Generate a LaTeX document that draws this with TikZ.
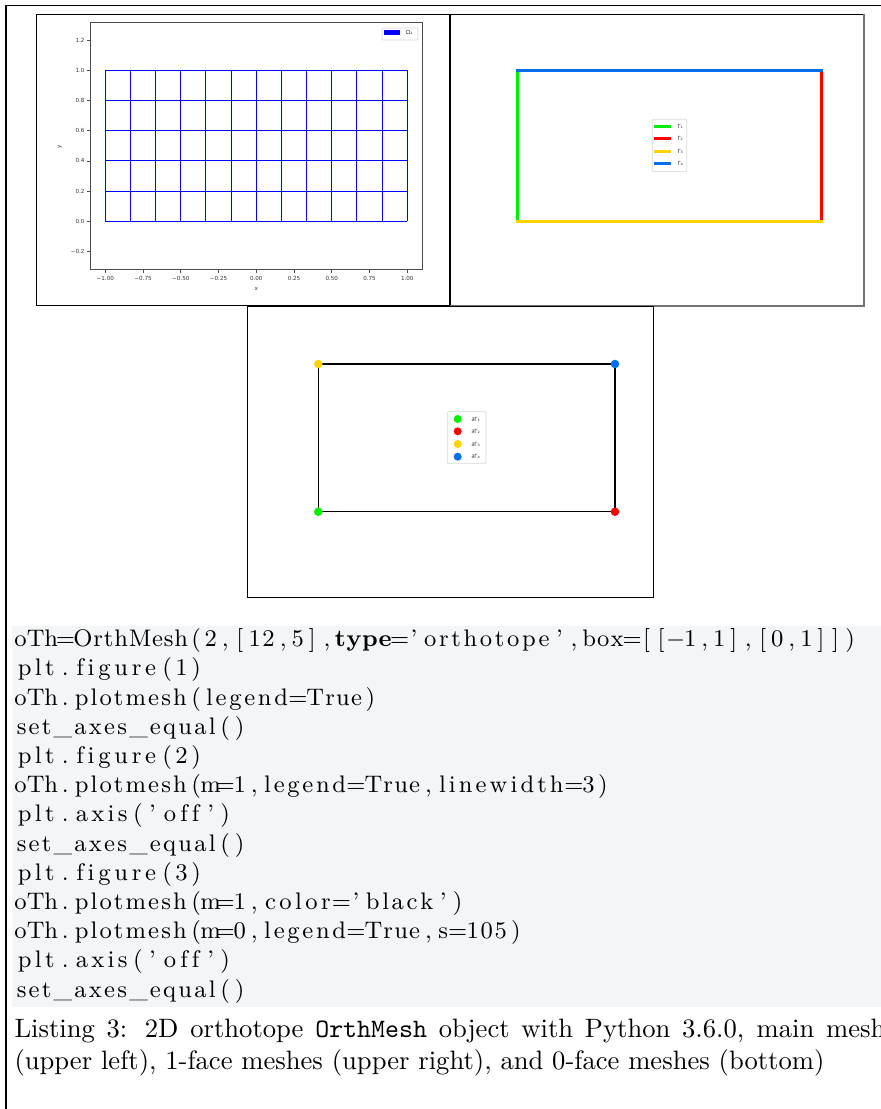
\documentclass[tikz,border=0pt]{standalone}
\usepackage{fontspec}
\newfontfamily\plotfont{DejaVu Sans}
\definecolor{cgreen}{RGB}{0,240,0}
\definecolor{cred}{RGB}{255,0,0}
\definecolor{cgold}{RGB}{255,210,0}
\definecolor{cblue}{RGB}{0,110,240}
\definecolor{meshblue}{RGB}{0,0,255}
\definecolor{codebg}{RGB}{244,245,247}
\ExplSyntaxOn
\dim_new:N \l__cm_cw_dim
\tl_new:N \l__cm_run_tl
\int_new:N \l__cm_n_int
\cs_new_protected:Npn \__cm_flush:
  {
    \int_compare:nNnT { \l__cm_n_int } > { 0 }
      {
        \hbox_to_wd:nn { \l__cm_cw_dim * \l__cm_n_int } { \hss \l__cm_run_tl }
        \tl_clear:N \l__cm_run_tl
        \int_zero:N \l__cm_n_int
      }
  }
\NewDocumentCommand \codechars { m }
  {
    \dim_set:Nn \l__cm_cw_dim { 0.607em }
    \tl_clear:N \l__cm_run_tl
    \int_zero:N \l__cm_n_int
    \str_map_inline:nn { #1 }
      {
        \str_if_in:nnTF { abcdefghijklmnopqrstuvwxyzABCDEFGHIJKLMNOPQRSTUVWXYZ0123456789_ } { ##1 }
          {
            \tl_put_right:Nn \l__cm_run_tl { ##1 \hss }
            \int_incr:N \l__cm_n_int
          }
          {
            \__cm_flush:
            \hbox_to_wd:nn { \l__cm_cw_dim }
              { \hss \str_if_eq:nnTF { ##1 } { - } { \ensuremath{-} } { ##1 } \hss }
          }
      }
    \__cm_flush:
  }
\ExplSyntaxOff
\begin{document}
\begin{tikzpicture}[x=0.37594pt,y=-0.37594pt,
  meshline/.style={draw=meshblue, line width=0.38pt},
  spine/.style={draw=black!70, line width=0.3pt},
  ticklab/.style={font=\plotfont\fontsize{2.1}{2.5}\selectfont, text=black!80, inner sep=0pt},
  leglab/.style={font=\plotfont\fontsize{2.1}{2.5}\selectfont, text=black!80, inner sep=0pt, anchor=west},
  legbox/.style={draw=black!15, line width=0.3pt, fill=white, rounded corners=0.4pt},
  frame/.style={draw=black, line width=0.45pt},
  bline/.style={line width=1.13pt, line cap=rect},
  dot/.style={circle, inner sep=0pt, minimum size=3.2pt, draw=none},
  ldot/.style={circle, inner sep=0pt, minimum size=3.0pt, draw=none},
  codeline/.style={anchor=base west, inner sep=0pt, font=\fontsize{9}{11}\selectfont},
  capline/.style={anchor=base west, inner sep=0pt, font=\fontsize{10}{12}\selectfont}]
\clip (0,0) rectangle (881,1109);
\fill[white] (0,0) rectangle (881,1109);
% outer frame
\draw[line width=0.4pt] (6,1109) -- (6,5.7) -- (881,5.7);
% image frames
\draw[frame] (36.7,14.3) rectangle (450,305.7);
\draw[frame] (450,305.7) -- (450,14.3) -- (864,14.3);
\draw[draw=black!55, line width=0.7pt] (864,14.3) -- (864,305.7) -- (450,305.7);
\draw[frame] (247.3,306.7) rectangle (653.3,597.7);
% ---- plot 1 ----
\begin{scope}[shift={(256.3,221.3)}, x=56.767pt, y=56.767pt]
  \foreach \i in {0,...,12} \draw[meshline] ({-1+\i/6},0) -- ({-1+\i/6},1);
  \foreach \j in {0,...,5} \draw[meshline] (-1,\j/5) -- (1,\j/5);
  \draw[spine] (-1.101,-0.318) rectangle (1.102,1.318);
  \foreach \v/\t [count=\k] in {-0.2/−0.2,0/0.0,0.2/0.2,0.4/0.4,0.6/0.6,0.8/0.8,1/1.0,1.2/1.2}{
    \draw[spine] (-1.101,\v) -- ++(-0.022,0);
    \node[ticklab, anchor=east] (yt\k) at (-1.134,\v) {\t};
  }
  \foreach \v/\t [count=\k] in {-1/−1.00,-0.75/−0.75,-0.5/−0.50,-0.25/−0.25,0/0.00,0.25/0.25,0.5/0.50,0.75/0.75,1/1.00}{
    \draw[spine] (\v,-0.318) -- ++(0,-0.022);
    \node[ticklab, anchor=north] (xt\k) at (\v,-0.358) {\t};
  }
  \node[ticklab] (xlab) at (0,-0.448) {x};
  \node[ticklab, rotate=90] (ylab) at (-1.30,0.492) {y};
\end{scope}
\draw[legbox] (382,28) rectangle (418,40);
\fill[meshblue] (384,30.2) rectangle (400,35);
\node[leglab] (om) at (405.5,32.6) {Ω₁};
% ---- plot 2 ----
\draw[bline, cgreen] (517.7,221) -- (517.7,70);
\draw[bline, cred] (821,221) -- (821,70);
\draw[bline, cgold] (517.7,221) -- (821,221);
\draw[bline, cblue] (517.7,70) -- (821,70);
\draw[legbox] (652.3,119.3) rectangle (686.7,171.7);
\foreach \c/\y/\k in {cgreen/126.3/1,cred/138.7/2,cgold/151/3,cblue/163.7/4}{
  \draw[line width=1.13pt, \c] (654,\y) -- (670.7,\y);
  \node[leglab] (g\k) at (677,\y) {Γ\ifcase\k\or₁\or₂\or₃\or₄\fi};
}
% ---- plot 3 ----
\draw[line width=0.45pt, black] (318.3,364) rectangle (615,511.7);
\node[dot, fill=cgreen] (p1) at (318.3,511.7) {};
\node[dot, fill=cred] (p2) at (615,511.7) {};
\node[dot, fill=cgold] (p3) at (318.3,364) {};
\node[dot, fill=cblue] (p4) at (615,364) {};
\draw[legbox] (447.3,411.7) rectangle (486,463.3);
\foreach \c/\y/\k in {cgreen/419/1,cred/431.3/2,cgold/444/3,cblue/456.7/4}{
  \node[ldot, fill=\c] (d\k) at (457.7,\y) {};
  \node[leglab] (dl\k) at (471,\y) {∂Γ\ifcase\k\or₁\or₂\or₃\or₄\fi};
}
% ---- code listing ----
\fill[codebg] (12,626) rectangle (881,1007);
\node[codeline] (c1) at (14,646.7) {\codechars{oTh=OrthMesh(2,[12,5],}\textbf{\codechars{type}}\codechars{='orthotope',box=[[-1,1],[0,1]])}};
\node[codeline] (c2) at (14,675.9) {\codechars{plt.figure(1)}};
\node[codeline] (c3) at (14,705.1) {\codechars{oTh.plotmesh(legend=True)}};
\node[codeline] (c4) at (14,734.3) {\codechars{set_axes_equal()}};
\node[codeline] (c5) at (14,763.5) {\codechars{plt.figure(2)}};
\node[codeline] (c6) at (14,792.7) {\codechars{oTh.plotmesh(m=1,legend=True,linewidth=3)}};
\node[codeline] (c7) at (14,821.9) {\codechars{plt.axis('off')}};
\node[codeline] (c8) at (14,851.1) {\codechars{set_axes_equal()}};
\node[codeline] (c9) at (14,880.3) {\codechars{plt.figure(3)}};
\node[codeline] (c10) at (14,909.5) {\codechars{oTh.plotmesh(m=1,color='black')}};
\node[codeline] (c11) at (14,938.7) {\codechars{oTh.plotmesh(m=0,legend=True,s=105)}};
\node[codeline] (c12) at (14,967.9) {\codechars{plt.axis('off')}};
\node[codeline] (c13) at (14,997.1) {\codechars{set_axes_equal()}};
% ---- caption ----
\node[capline] (cap1) at (14,1037.7) {\makebox[327.4pt][s]{Listing 3: 2D orthotope \texttt{OrthMesh} object with Python 3.6.0, main mesh}};
\node[capline] (cap2) at (14,1069.6) {(upper left), 1-face meshes (upper right), and 0-face meshes (bottom)};
\end{tikzpicture}
\end{document}
